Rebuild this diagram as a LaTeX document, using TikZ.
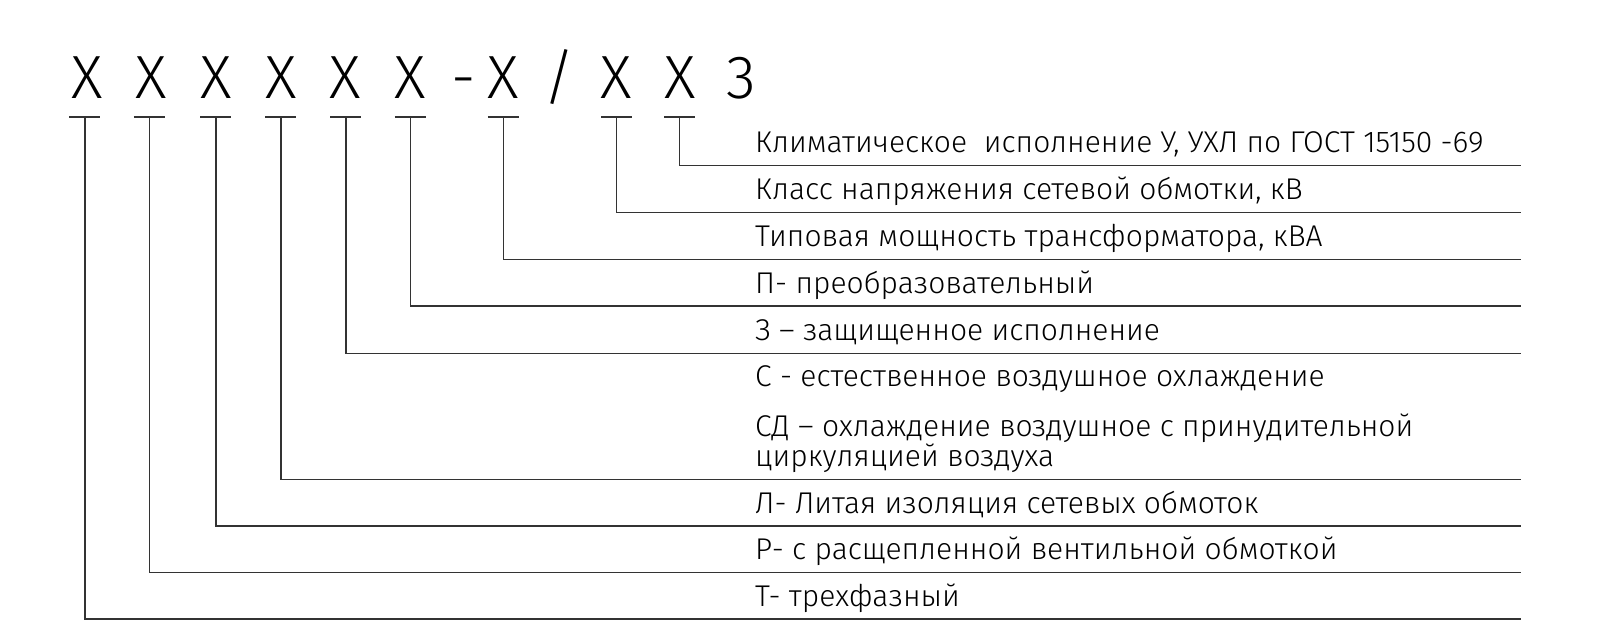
\documentclass[tikz,border=0pt]{standalone}
\usepackage{fontspec}
\setmainfont{Fira Sans}[UprightFont=* Light]
\definecolor{linecol}{HTML}{333333}
\begin{document}
\begin{tikzpicture}[x=1pt,y=-1pt,
  head/.style={anchor=base,inner sep=0pt,font=\fontsize{61}{61}\selectfont},
  lbl/.style={anchor=base west,inner sep=0pt,font=\fontsize{30}{30}\selectfont},
  bar/.style={draw=linecol,line width=1.6pt},
  lead/.style={draw=linecol,line width=1.6pt}]
\useasboundingbox[fill=white] (0,0) rectangle (1600,643);
% header characters
\node[head] (h1) at (86.7,98.3) {X};
\node[head] (h2) at (151,98.3) {X};
\node[head] (h3) at (216,98.3) {X};
\node[head] (h4) at (280.7,98.3) {X};
\node[head] (h5) at (345,98.3) {X};
\node[head] (h6) at (410,98.3) {X};
\node[head] (hd) at (463.3,98.3) {-};
\node[head] (h7) at (503.3,98.3) {X};
\node[head] (hs) at (559,98.3) {/};
\node[head] (h8) at (616,98.3) {X};
\node[head] (h9) at (680,98.3) {X};
\node[head] (h3z) at (741.7,98.3) {3};
% bar coordinates
\foreach \i/\x in {1/84.7,2/149.3,3/215.7,4/280.7,5/345.7,6/410.4,7/503.3,8/616.6,9/679.5}{
  \coordinate (b\i) at (\x,116.7);
  \draw[bar] (\x-15.5,116.7) -- (\x+15.5,116.7);
}
% end coordinates of leaders
\foreach \i/\y in {1/619,2/572.5,3/526,4/479.3,5/353.3,6/306,7/259.3,8/212.5,9/165.3}{
  \coordinate (e\i) at (1521,\y);
  \draw[lead] (b\i) |- (e\i);
}
% labels
\node[lbl] (t9) at (755,152.3) {Климатическое\ \ исполнение У, УХЛ по ГОСТ 15150 -69};
\node[lbl] (t8) at (755,199.5) {Класс напряжения сетевой обмотки, кВ};
\node[lbl] (t7) at (755,246.3) {Типовая мощность трансформатора, кВА};
\node[lbl] (t6) at (755,293) {П- преобразовательный};
\node[lbl] (t5) at (755,340.3) {З – защищенное исполнение};
\node[lbl] (t4a) at (755,386.7) {С - естественное воздушное охлаждение};
\node[lbl] (t4b) at (755,436.7) {СД – охлаждение воздушное с принудительной};
\node[lbl] (t4c) at (755,466.7) {циркуляцией воздуха};
\node[lbl] (t3) at (755,513) {Л- Литая изоляция сетевых обмоток};
\node[lbl] (t2) at (755,559.5) {Р- с расщепленной вентильной обмоткой};
\node[lbl] (t1) at (755,606) {Т- трехфазный};
\end{tikzpicture}
\end{document}
